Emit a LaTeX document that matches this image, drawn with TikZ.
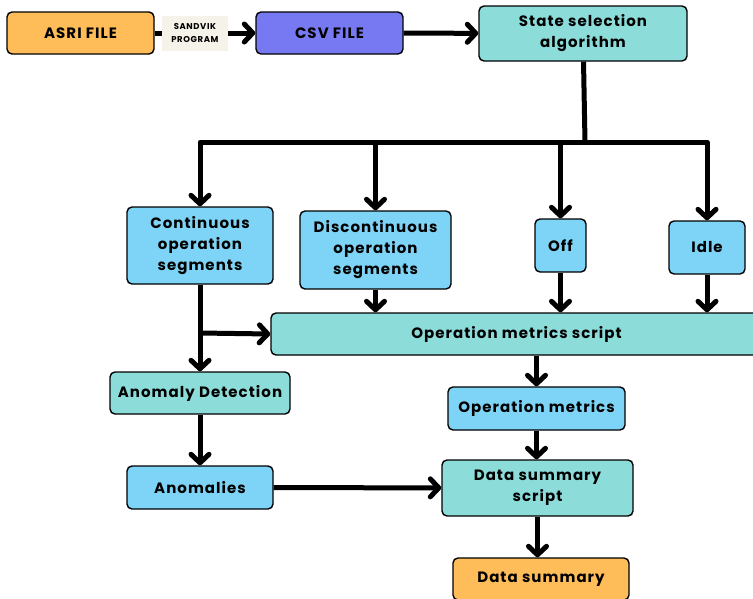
\documentclass[tikz,border=0pt]{standalone}
\usepackage{fontspec}
\setmainfont{Poppins}[LetterSpace=7]
\usetikzlibrary{arrows.meta, positioning}

\definecolor{boxorange}{HTML}{FEBD59}
\definecolor{boxviolet}{HTML}{7779F2}
\definecolor{boxteal}{HTML}{8CDCDA}
\definecolor{boxblue}{HTML}{7ED4F6}
\definecolor{tagbeige}{HTML}{F5F2EA}

\tikzset{
    box/.style={draw, rounded corners=5pt, line width=1.4pt, align=center,
        inner sep=0pt, font=\bfseries\fontsize{15}{21}\selectfont},
    orangebox/.style={box, fill=boxorange},
    violetbox/.style={box, fill=boxviolet},
    tealbox/.style={box, fill=boxteal},
    bluebox/.style={box, fill=boxblue},
    tag/.style={fill=tagbeige, align=center, inner sep=0pt, minimum width=66pt,
        minimum height=35pt, font=\bfseries\fontsize{8.5}{12.5}\selectfont},
    arr/.style={line width=5pt, line join=round,
        -{Straight Barb[length=8.5pt, width=18pt, line cap=round, line join=round]}},
    wire/.style={line width=5pt}
}

\begin{document}
\begin{tikzpicture}[x=1pt, y=-1pt]
\useasboundingbox (0,0) rectangle (753,598);
\clip (0,0) rectangle (753,598);
% Boxes
\node[orangebox, minimum width=147pt, minimum height=42pt] (asri) at (80.5,33) {ASRI FILE};
\node[violetbox, minimum width=147pt, minimum height=42pt] (csv) at (329.5,33) {CSV FILE};
\node[tealbox, minimum width=208pt, minimum height=55pt] (state) at (583,33.5) {State selection\\algorithm};
\node[bluebox, minimum width=146pt, minimum height=77pt] (cont) at (200,245.5) {Continuous\\operation\\segments};
\node[bluebox, minimum width=151pt, minimum height=78pt] (discont) at (375.5,250) {Discontinuous\\operation\\segments};
\node[bluebox, minimum width=51pt, minimum height=53pt] (off) at (560.5,245.5) {Off};
\node[bluebox, minimum width=76pt, minimum height=53pt] (idle) at (707,247.5) {Idle};
\node[tealbox, minimum width=491pt, minimum height=42pt] (opscript) at (516.5,334) {Operation metrics script};
\node[tealbox, minimum width=180pt, minimum height=42pt] (anomdet) at (200,393) {Anomaly Detection};
\node[bluebox, minimum width=146pt, minimum height=43pt] (anomalies) at (200,487.5) {Anomalies};
\node[bluebox, minimum width=177pt, minimum height=43pt] (opmetrics) at (536.5,408.5) {Operation metrics};
\node[tealbox, minimum width=191pt, minimum height=56pt] (dsscript) at (537.5,488) {Data summary\\script};
\node[orangebox, minimum width=176pt, minimum height=42pt] (dsummary) at (541,579) {Data summary};

% Junctions
\coordinate (split) at (585,142);
\coordinate (tap) at (200,333);

% Connectors
\draw[arr] (asri) -- node[tag, pos=0.4] (sandvik) {SANDVIK\\PROGRAM} (csv);
\draw[arr] (csv) -- (state);
\draw[wire] (state) -- (split);
\draw[arr] (split) -| (cont);
\draw[arr] (split) -| (discont);
\draw[arr] (split) -| (off);
\draw[arr] (split) -| (idle);
\draw[arr] (cont) -- (anomdet);
\draw[arr] (tap) -- (opscript.west);
\draw[arr] (discont) -- (discont |- opscript.north);
\draw[arr] (off) -- (off |- opscript.north);
\draw[arr] (idle) -- (idle |- opscript.north);
\draw[arr] (opmetrics |- opscript.south) -- (opmetrics);
\draw[arr] (opmetrics) -- (opmetrics |- dsscript.north);
\draw[arr] (anomdet) -- (anomalies);
\draw[arr] (anomalies) -- (dsscript);
\draw[arr] (dsscript) -- (dsscript |- dsummary.north);
\end{tikzpicture}
\end{document}
